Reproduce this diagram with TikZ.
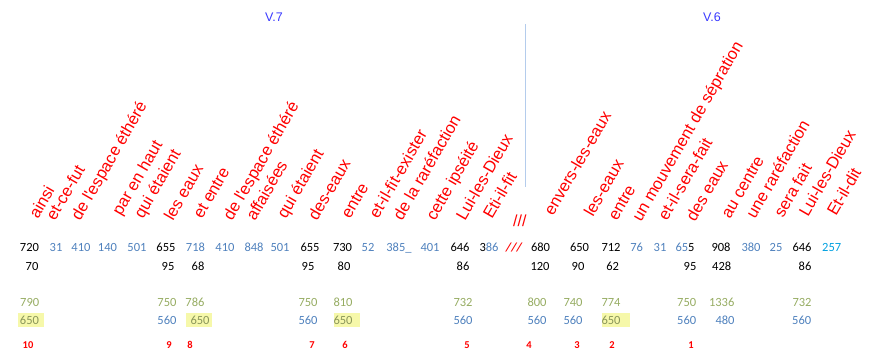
\documentclass[tikz,border=0pt]{standalone}
\usepackage{fontspec}
\usepackage{tikz}
\usetikzlibrary{positioning}
\newfontfamily\arialf{Liberation Sans}
\newfontfamily\calibf{Carlito}
\definecolor{blu}{RGB}{79,129,189}
\definecolor{cyn}{RGB}{0,160,224}
\definecolor{grn}{RGB}{150,172,98}
\definecolor{olv}{RGB}{138,150,90}
\definecolor{hlyel}{RGB}{246,248,170}
\definecolor{vblue}{RGB}{58,58,255}
\definecolor{sepblue}{RGB}{180,204,236}
\tikzset{
	word/.style={anchor=base west, rotate=60, inner sep=0pt, text=red, font=\arialf\fontsize{16.5}{18}\selectfont},
	brkmark/.style={anchor=base west, inner sep=0pt, text=red, font=\arialf\fontsize{16}{18}\selectfont},
	num/.style={anchor=base, inner sep=0pt, font=\calibf\fontsize{12.5}{14}\selectfont},
	refnum/.style={anchor=base, inner sep=0pt, text=red, font=\calibf\bfseries\fontsize{10.5}{12}\selectfont},
	verse/.style={text=vblue, font=\arialf\fontsize{12.5}{14}\selectfont}
}

\begin{document}
\begin{tikzpicture}[x=1pt,y=-1pt]
		\useasboundingbox (0,0) rectangle (877,360);

		% verse headers and separator
		\node[verse] (v7) at (274,17) {V.7};
		\node[verse] (v6) at (712,17) {V.6};
		\coordinate (septop) at (525,24);
		\coordinate (sepbot) at (525,187);
		\draw[sepblue, line width=0.8pt] (septop) -- (sepbot);

		% words
		\foreach \x/\y/\t [count=\i] in {38/220/ainsi, 55/222/et-ce-fut,
			80/222/de l\textquotesingle espace éthéré, 121/217/par en haut,
			143/220/qui étaient, 173/222/les eaux, 202/220/et entre,
			232/222/de l\textquotesingle espace éthéré, 255/222/affaisées,
			286/220/qui étaient, 317/222/des-eaux, 350/220/entre,
			378/220/et-il-fit-exister, 402/222/de la raréfaction,
			435/222/cette ipséité, 465/222/Lui-les-Dieux, 492/220/Eti-il-fit,
			553/217/envers-les-eaux, 593/218/les-eaux, 617/222/entre,
			641/223/un mouvement de sépration, 667/222/et-il-sera-fait,
			695/223/des eaux, 730/220/au centre, 755/220/une raréfaction,
			783/219/sera fait, 808/218/Lui-les-Dieux, 836/217/Et-il-dit}
			\node[word] (w\i) at (\x,\y) {\t};
		\node[brkmark] (brk) at (513,226) {///};

		% first line of numbers
		\foreach \x/\t/\c [count=\i] in {29.5/720/black, 56/31/blu, 81/410/blu,
			107.5/140/blu, 137/501/blu, 166/655/black, 195.5/718/blu, 225/410/blu,
			254/848/blu, 280/501/blu, 310/655/black, 342.5/730/black, 368/52/blu,
			399/385\_/blu, 430/401/blu, 460/646/black,
			489/{3\textcolor{blu}{86}}/black, 540.5/680/black, 579.5/650/black,
			611/712/black, 636.7/76/blu, 660/31/blu,
			685/{\textcolor{blu}{65}5}/black, 721/908/black, 751/380/blu,
			776/25/blu, 802/646/black, 831.7/257/cyn}
			\node[num, text=\c] (a\i) at (\x,251.7) {\t};
		\node[num, text=red, font=\calibf\itshape\bfseries\fontsize{12.5}{14}\selectfont] (cut) at (514,251.7) {///};

		% second line
		\foreach \x/\t [count=\i] in {32/70, 168/95, 198/68, 308/95, 344/80,
			463/86, 540/120, 578/90, 612.7/62, 690/95, 721.7/428, 805/86}
			\node[num] (b\i) at (\x,270) {\t};

		% third line
		\foreach \x/\t [count=\i] in {29.7/790, 167/750, 195/786, 308/750,
			343/810, 463/732, 537/800, 573/740, 611/774, 686.7/750, 721.7/1336,
			802/732}
			\node[num, text=grn] (c\i) at (\x,306) {\t};

		% highlights of the fourth line
		\foreach \l/\r in {18.3/44.3, 185.7/211.7, 334/360, 601.7/630}
			\fill[hlyel] (\l,312.7) rectangle (\r,326.7);

		% fourth line
		\foreach \x/\t/\c [count=\i] in {29.5/650/olv, 167/560/blu, 200/650/olv,
			308/560/blu, 343/650/olv, 463/560/blu, 537/560/blu, 573/560/blu,
			611/650/olv, 686.7/560/blu, 725/480/blu, 801.7/560/blu}
			\node[num, text=\c] (d\i) at (\x,324) {\t};

		% reference numbers
		\foreach \x/\t in {28/10, 169/9, 190/8, 312/7, 345/6, 467/5, 529/4,
			577/3, 612/2, 691/1}
			\node[refnum] (r\t) at (\x,348.3) {\t};
	\end{tikzpicture}
\end{document}
